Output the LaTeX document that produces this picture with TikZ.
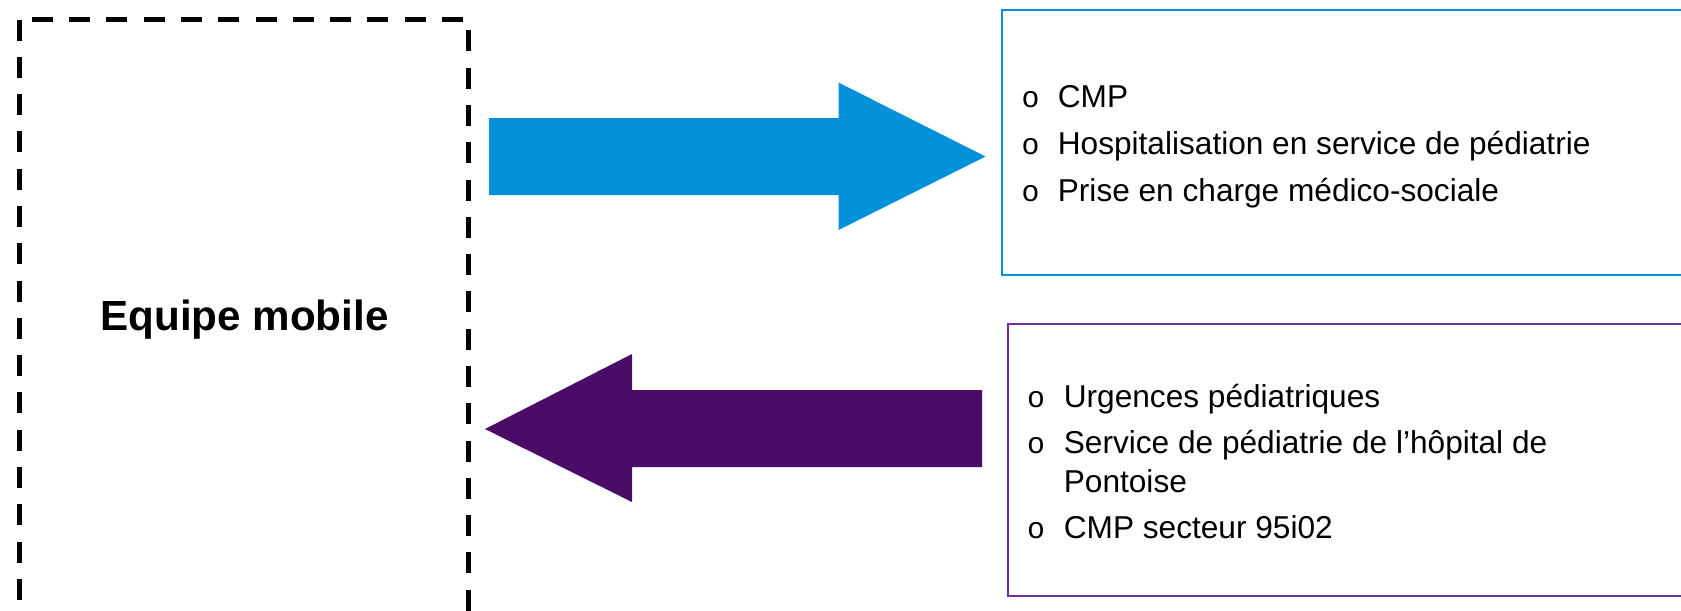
\documentclass[tikz,border=0pt]{standalone}
\usepackage{fontspec}
\setmainfont{Liberation Sans}
\newfontfamily\pucefont{Liberation Mono}
\definecolor{bleufleche}{RGB}{3,145,218}
\definecolor{prunefleche}{RGB}{74,12,102}
\definecolor{prunecadre}{RGB}{112,48,160}

\begin{document}
\begin{tikzpicture}[x=0.02cm,y=-0.02cm,
  cadre/.style={black,line width=0.1cm,dash pattern=on 0.42cm off 0.326cm},
  titre/.style={anchor=base,inner sep=0pt,font=\bfseries\fontsize{24}{28.8}\selectfont},
  item/.style={anchor=base west,inner sep=0pt,font=\fontsize{18}{21.6}\selectfont},
  puce/.style={anchor=base,inner sep=0pt,font=\pucefont\fontsize{17}{20}\selectfont}]
  \useasboundingbox (0,0) rectangle (1681,610);
  \clip (0,0) rectangle (1681,610);

   \draw[cadre] (19.5,19.5) rectangle (468.5,650);
   \node[titre] (equipe) at (244.5,330) {Equipe mobile};

   \draw[bleufleche,line width=0.04cm] (1002,9.5) rectangle (1700,275);
   \draw[prunecadre,line width=0.04cm] (1008,324) rectangle (1700,596);

   \fill[bleufleche] (489,118) -- (838.5,118) -- (838.5,82.5) -- (985.5,156.5)
        -- (838.5,230) -- (838.5,195) -- (489,195) -- cycle;
   \fill[prunefleche] (982,390) -- (632,390) -- (632,354) -- (485,429)
        -- (632,502) -- (632,467) -- (982,467) -- cycle;

   \node[puce] (pa) at (1030.5,107) {o};
   \node[puce] (pb) at (1030.5,154) {o};
   \node[puce] (pc) at (1030.5,201) {o};
   \node[item] (cmp) at (1057.5,107) {CMP};
   \node[item] (hospit) at (1057.5,154) {Hospitalisation en service de pédiatrie};
   \node[item] (medsoc) at (1057.5,201) {Prise en charge médico-sociale};

   \node[puce] (pd) at (1036,407) {o};
   \node[puce] (pe) at (1036,453) {o};
   \node[puce] (pf) at (1036,538) {o};
   \node[item] (urgences) at (1063.5,407) {Urgences pédiatriques};
   \node[item] (pontoise) at (1063.5,453) {Service de pédiatrie de l’hôpital de};
   \node[item] (pontoisebis) at (1063.5,492) {Pontoise};
   \node[item] (secteur) at (1063.5,538) {CMP secteur 95i02};
\end{tikzpicture}
\end{document}
